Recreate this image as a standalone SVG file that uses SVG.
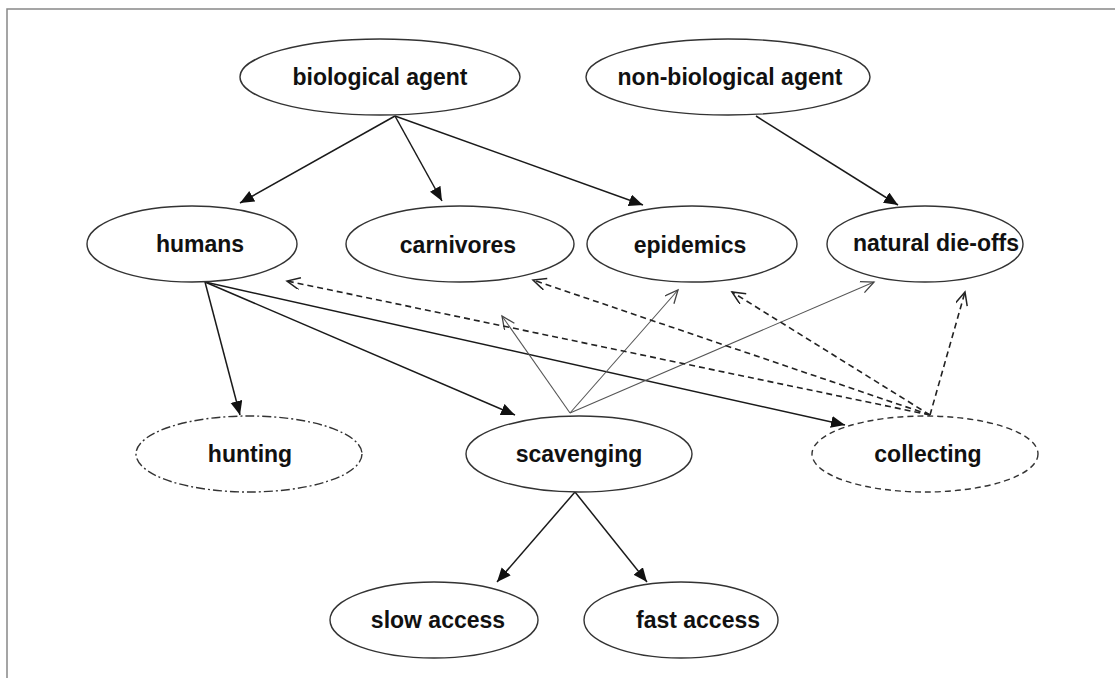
<svg xmlns="http://www.w3.org/2000/svg" width="1115" height="678" viewBox="0 0 1115 678">
<style>
.node ellipse{fill:#fff;stroke:#333;stroke-width:1.4}
.node text{font-family:"Liberation Sans",Arial,sans-serif;font-weight:bold;font-size:23px;fill:#111;text-anchor:middle;dominant-baseline:central}
.dashdot ellipse{stroke-dasharray:9,3,2,3}
.dashed ellipse{stroke-dasharray:6,4}
.solid{stroke:#1a1a1a;stroke-width:1.5;fill:none;marker-end:url(#fill)}
.thin{stroke:#555;stroke-width:1.1;fill:none;marker-end:url(#open)}
.dash{stroke:#222;stroke-width:1.6;fill:none;stroke-dasharray:6,4;marker-end:url(#openD)}
</style>
<defs>
<marker id="fill" markerUnits="userSpaceOnUse" markerWidth="15" markerHeight="13" refX="14" refY="6" orient="auto">
<path d="M0,0 L14,6 L0,12 z" fill="#111"/>
</marker>
<marker id="open" markerUnits="userSpaceOnUse" markerWidth="16" markerHeight="14" refX="14" refY="6" orient="auto">
<path d="M1,0 L14,6 L1,12" fill="none" stroke="#444" stroke-width="1.3"/>
</marker>
<marker id="openD" markerUnits="userSpaceOnUse" markerWidth="16" markerHeight="14" refX="14" refY="6" orient="auto">
<path d="M1,0 L14,6 L1,12" fill="none" stroke="#222" stroke-width="1.5"/>
</marker>
</defs>
<rect width="1115" height="678" fill="#fff"/>
<path d="M7,678 L7,9 L1115,9" fill="none" stroke="#888" stroke-width="1.5"/>

<g id="connectors">
<line class="solid" x1="395" y1="116" x2="240" y2="203"/>
<line class="solid" x1="395" y1="116" x2="442" y2="201"/>
<line class="solid" x1="395" y1="116" x2="643" y2="205"/>
<line class="solid" x1="756" y1="116" x2="898" y2="205"/>
<line class="solid" x1="205" y1="282" x2="240" y2="415"/>
<line class="solid" x1="205" y1="282" x2="515" y2="415"/>
<line class="solid" x1="205" y1="282" x2="845" y2="425"/>
<line class="thin" x1="570" y1="413" x2="502" y2="316"/>
<line class="thin" x1="570" y1="413" x2="678" y2="290"/>
<line class="thin" x1="570" y1="413" x2="874" y2="282"/>
<line class="dash" x1="930" y1="415" x2="287" y2="281"/>
<line class="dash" x1="930" y1="415" x2="533" y2="280"/>
<line class="dash" x1="930" y1="415" x2="732" y2="292"/>
<line class="dash" x1="930" y1="415" x2="965" y2="292"/>
<line class="solid" x1="575" y1="492" x2="497" y2="582"/>
<line class="solid" x1="575" y1="492" x2="647" y2="582"/>
</g>

<g id="biological-agent" class="node"><ellipse cx="380" cy="77" rx="140" ry="38"/><text x="380" y="77">biological agent</text></g>
<g id="non-biological-agent" class="node"><ellipse cx="728" cy="77" rx="142" ry="38"/><text x="730" y="77">non-biological agent</text></g>
<g id="humans" class="node"><ellipse cx="192" cy="244" rx="105" ry="38"/><text x="200" y="244">humans</text></g>
<g id="carnivores" class="node"><ellipse cx="460" cy="244" rx="114" ry="38"/><text x="458" y="245">carnivores</text></g>
<g id="epidemics" class="node"><ellipse cx="692" cy="244" rx="105" ry="38"/><text x="690" y="245">epidemics</text></g>
<g id="natural-die-offs" class="node"><ellipse cx="925" cy="244" rx="98" ry="38"/><text x="936" y="243">natural die-offs</text></g>
<g id="hunting" class="node dashdot"><ellipse cx="249" cy="454" rx="113" ry="38"/><text x="250" y="454">hunting</text></g>
<g id="scavenging" class="node"><ellipse cx="579" cy="454" rx="113" ry="38"/><text x="579" y="454">scavenging</text></g>
<g id="collecting" class="node dashed"><ellipse cx="925" cy="454" rx="113" ry="38"/><text x="928" y="454">collecting</text></g>
<g id="slow-access" class="node"><ellipse cx="434" cy="620" rx="104" ry="38"/><text x="438" y="620">slow access</text></g>
<g id="fast-access" class="node"><ellipse cx="681" cy="620" rx="97" ry="38"/><text x="698" y="620">fast access</text></g>
</svg>
